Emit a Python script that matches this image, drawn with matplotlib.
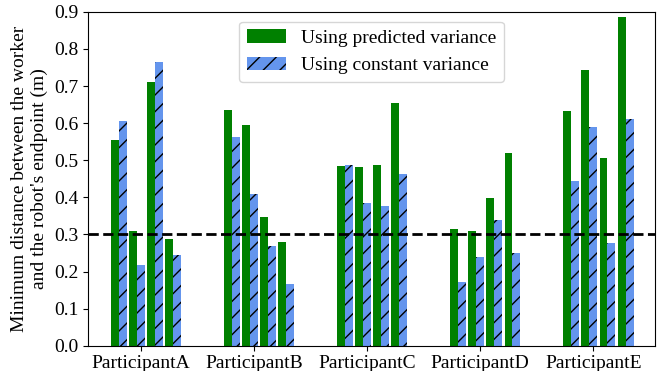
import numpy as np
import matplotlib
matplotlib.use("Agg")
import matplotlib.pyplot as plt

plt.rcParams['font.family'] = ['Liberation Serif', 'DejaVu Serif']
plt.rcParams['hatch.linewidth'] = 1.0

participants = ['ParticipantA', 'ParticipantB', 'ParticipantC', 'ParticipantD', 'ParticipantE']

# 4 trials per participant
predicted = [
    [0.555, 0.310, 0.712, 0.288],
    [0.635, 0.594, 0.348, 0.281],
    [0.485, 0.481, 0.487, 0.655],
    [0.315, 0.310, 0.399, 0.520],
    [0.633, 0.742, 0.507, 0.886],
]
constant = [
    [0.605, 0.218, 0.766, 0.245],
    [0.564, 0.410, 0.270, 0.167],
    [0.487, 0.384, 0.377, 0.462],
    [0.173, 0.238, 0.340, 0.250],
    [0.443, 0.590, 0.276, 0.611],
]

threshold = 0.3

fig, ax = plt.subplots(figsize=(6.57, 3.71), dpi=100)

w = 0.07
step = 0.16
x = np.arange(len(participants))
for j in range(4):
    pos = x + (j - 1.5) * step
    p = [row[j] for row in predicted]
    c = [row[j] for row in constant]
    ax.bar(pos - w / 2, p, width=w, color='green',
           label='Using predicted variance' if j == 0 else None)
    ax.bar(pos + w / 2, c, width=w, color='cornflowerblue', edgecolor='black',
           linewidth=0, hatch='//',
           label='Using constant variance' if j == 0 else None)

ax.axhline(threshold, color='black', linestyle='--', linewidth=2)

ax.set_xticks(x - 0.045)
ax.set_xticklabels(participants, fontsize=14)
ax.set_xlim(-0.51, 4.5)
ax.set_ylim(0, 0.9)
ax.set_yticks(np.arange(0, 0.91, 0.1))
ax.tick_params(axis='y', labelsize=14)
ax.set_ylabel("Minimum distance between the worker\nand the robot's endpoint (m)", fontsize=14)
ax.legend(loc='upper center', fontsize=14, bbox_to_anchor=(0.5, 1.0))

fig.subplots_adjust(left=0.134, right=0.997, top=0.968, bottom=0.068)
fig.savefig('out.png', dpi=100)
